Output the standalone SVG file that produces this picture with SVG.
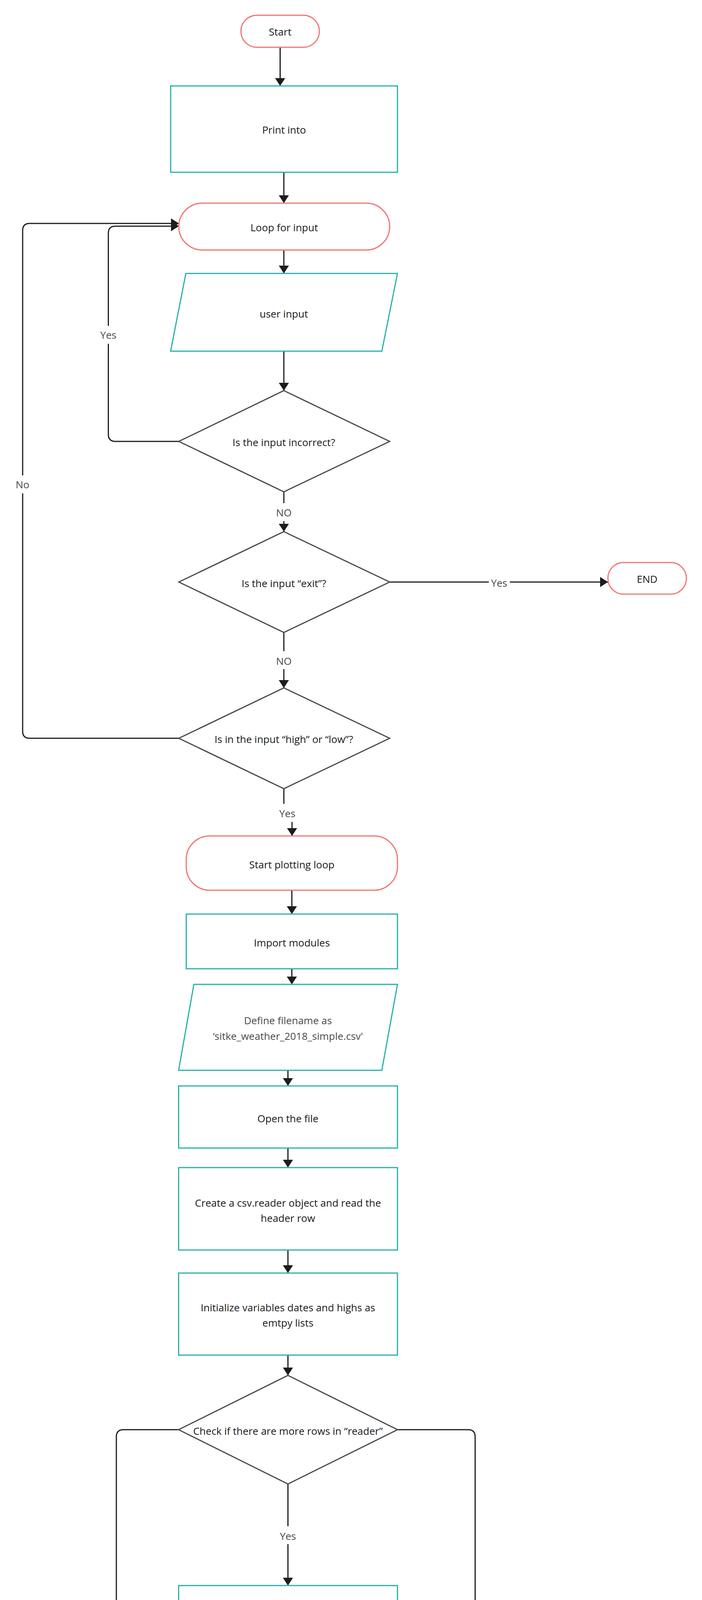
<svg xmlns="http://www.w3.org/2000/svg" width="1798" height="6340" viewBox="0 0 1798 6340">
<style>
.bg{fill:#ffffff}
.term{fill:#ffffff;stroke:#f27474;stroke-width:3}
.proc{fill:#ffffff;stroke:#26b0aa;stroke-width:3}
.dec{fill:#ffffff;stroke:#474747;stroke-width:3;stroke-linejoin:miter}
.t{font-family:"Open Sans","Noto Sans","Liberation Sans",sans-serif;font-size:26px;fill:#1a1a1a;text-anchor:middle;dominant-baseline:central}
.tg{fill:#4a4a4a}
.conn{fill:none;stroke:#1c1c1c;stroke-width:3;marker-end:url(#arr)}
.lbl{font-family:"Open Sans","Noto Sans","Liberation Sans",sans-serif;font-size:26px;fill:#4a4a4a;text-anchor:middle;dominant-baseline:central}
.lb{fill:#ffffff}
</style>
<defs>
<marker id="arr" markerUnits="userSpaceOnUse" markerWidth="22" markerHeight="28" refX="20" refY="13" orient="auto">
<path d="M0,0 L20,13 L0,26 Z" fill="#1c1c1c"/>
</marker>
</defs>
<rect class="bg" x="0" y="0" width="1798" height="6340"/>

<g id="connectors">
<path class="conn" d="M717.5,121 V220"/>
<path class="conn" d="M727,441 V520"/>
<path class="conn" d="M727,640 V700"/>
<path class="conn" d="M727,899 V1000"/>
<path class="conn" d="M458,1130 H295.5 Q277.5,1130 277.5,1112 V597 Q277.5,579 295.5,579 H458"/>
<path class="conn" d="M727,1259 V1361"/>
<path class="conn" d="M998,1490 H1557"/>
<path class="conn" d="M727,1619 V1761"/>
<path class="conn" d="M458,1890 H76 Q58,1890 58,1872 V590 Q58,572 76,572 H458"/>
<path class="conn" d="M727,2019 V2083 H748 V2140"/>
<path class="conn" d="M747.5,2279 V2340"/>
<path class="conn" d="M747.5,2480 V2520"/>
<path class="conn" d="M737.5,2740 V2780"/>
<path class="conn" d="M737.5,2939 V2989"/>
<path class="conn" d="M737.5,3200 V3259"/>
<path class="conn" d="M737.5,3469 V3521"/>
<path class="conn" d="M737.5,3799 V4059"/>
<path class="conn" d="M457.5,3660 H316 Q298,3660 298,3678 V4782 Q298,4800 316,4800 H457.5"/>
<path class="conn" d="M1018,3660 H1199 Q1217,3660 1217,3678 V5141 Q1217,5159 1199,5159 H1018"/>
<path class="conn" d="M737.5,4300 V4359"/>
<path class="conn" d="M737.5,4600 V4679"/>
<path class="conn" d="M737.5,4920 V5040"/>
<path class="conn" d="M737.5,5280 V5379"/>
<path class="conn" d="M737.5,5280 V5312 Q737.5,5330 755.5,5330 H1336 Q1354,5330 1354,5348 V5379"/>
<path class="conn" d="M729,5620 V5680"/>
<path class="conn" d="M731.5,5920 V6000"/>
<path class="conn" d="M727,6140 V6219"/>
<rect class="lb" x="254" y="834" width="48" height="46"/>
<text class="lbl" x="277.5" y="857">Yes</text>
<rect class="lb" x="708" y="1288" width="38" height="46"/>
<text class="lbl" x="727" y="1312">NO</text>
<rect class="lb" x="1252" y="1470" width="54" height="40"/>
<text class="lbl" x="1278.5" y="1492">Yes</text>
<rect class="lb" x="708" y="1667" width="38" height="46"/>
<text class="lbl" x="727" y="1692">NO</text>
<rect class="lb" x="40" y="1217" width="36" height="46"/>
<text class="lbl" x="57.5" y="1240">No</text>
<rect class="lb" x="712" y="2058" width="48" height="46"/>
<text class="lbl" x="736" y="2082">Yes</text>
<rect class="lb" x="714" y="3907" width="48" height="46"/>
<text class="lbl" x="737.5" y="3932">Yes</text>
<rect class="lb" x="274" y="4209" width="48" height="46"/>
<text class="lbl" x="298" y="4232">Yes</text>
<rect class="lb" x="1199" y="4390" width="36" height="44"/>
<text class="lbl" x="1217" y="4413">No</text>
</g>

<g id="start"><rect class="term" x="617" y="39" width="201" height="82" rx="41" ry="41"/><text class="t" x="717.5" y="81">Start</text></g>
<g id="print-into"><rect class="proc" x="437" y="220" width="581" height="221"/><text class="t" x="727.5" y="332">Print into</text></g>
<g id="loop-for-input"><rect class="term" x="458" y="520" width="540" height="120" rx="60" ry="60"/><text class="t" x="728" y="582">Loop for input</text></g>
<g id="user-input"><polygon class="proc" points="476,700 1018,700 978,899 437,899"/><text class="t" x="727" y="803">user input</text></g>
<g id="is-incorrect"><polygon class="dec" points="727,1000 998,1130 727,1259 458,1130"/><text class="t" x="727" y="1132">Is the input incorrect?</text></g>
<g id="is-exit"><polygon class="dec" points="727,1361 998,1490 727,1619 458,1490"/><text class="t" x="727" y="1493">Is the input “exit”?</text></g>
<g id="end-top"><rect class="term" x="1557" y="1440" width="201" height="81" rx="40" ry="40"/><text class="t" x="1657.5" y="1482">END</text></g>
<g id="is-high-low"><polygon class="dec" points="727,1761 998,1890 727,2019 458,1890"/><text class="t" x="727" y="1892">Is in the input “high” or “low”?</text></g>
<g id="start-plotting"><rect class="term" x="477" y="2140" width="541" height="139" rx="60" ry="60"/><text class="t" x="747.5" y="2213">Start plotting loop</text></g>
<g id="import-modules"><rect class="proc" x="477" y="2340" width="541" height="140"/><text class="t" x="747.5" y="2413">Import modules</text></g>
<g id="define-filename"><polygon class="proc" points="496.5,2520 1018,2520 978,2740 457.5,2740"/><text class="t tg" x="737.5" y="2612">Define filename as</text><text class="t tg" x="737.5" y="2652">‘sitke_weather_2018_simple.csv'</text></g>
<g id="open-file"><rect class="proc" x="457.5" y="2780" width="560.5" height="159"/><text class="t" x="737.5" y="2863">Open the file</text></g>
<g id="csv-reader"><rect class="proc" x="457.5" y="2989" width="560.5" height="211"/><text class="t" x="737.5" y="3079">Create a csv.reader object and read the</text><text class="t" x="737.5" y="3118">header row</text></g>
<g id="init-vars"><rect class="proc" x="457.5" y="3259" width="560.5" height="210"/><text class="t" x="737.5" y="3347">Initialize variables dates and highs as</text><text class="t" x="737.5" y="3386">emtpy lists</text></g>
<g id="more-rows"><polygon class="dec" points="737.5,3521 1018,3660 737.5,3799 457.5,3660"/><text class="t" x="737.5" y="3663">Check if there are more rows in “reader”</text></g>
<g id="continue-row"><rect class="proc" x="457.5" y="4059" width="560.5" height="241"/><text class="t" x="737.5" y="4183">Continue to process each row</text></g>
<g id="parse-date"><rect class="proc" x="457.5" y="4359" width="560.5" height="241"/><text class="t" x="737.5" y="4463">Parse current_date and append to</text><text class="t" x="737.5" y="4502">“dates”</text></g>
<g id="append-temp"><rect class="proc" x="457.5" y="4679" width="560.5" height="241"/><text class="t" x="737.5" y="4804">Append temp to “temps” from row[5]</text></g>
<g id="init-color"><rect class="proc" x="457.5" y="5040" width="560.5" height="240"/><text class="t" x="737.5" y="5163">Initialize color and temperature and label</text></g>
<g id="create-plot"><rect class="proc" x="457.5" y="5379" width="544.5" height="241"/><text class="t" x="730.5" y="5503">Create and Plot data</text></g>
<g id="process"><rect class="proc" x="1081" y="5379" width="545" height="241"/><text class="t" x="1354" y="5502">Process</text></g>
<g id="format-plot"><rect class="proc" x="460" y="5680" width="544.5" height="240"/><text class="t" x="732" y="5804">Format plot</text></g>
<g id="display-plot"><polygon class="proc" points="437,6000 978,6000 1018,6140 477,6140"/><text class="t" x="728" y="6073">Display the plot</text></g>
<g id="end"><rect class="term" x="629.5" y="6219" width="194" height="82" rx="41" ry="41"/><text class="t" x="726.5" y="6262">END</text></g>
</svg>
